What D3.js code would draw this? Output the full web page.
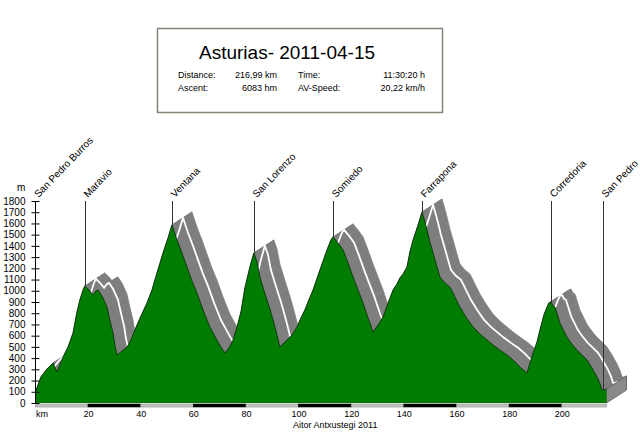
<!DOCTYPE html>
<html><head><meta charset="utf-8">
<script src="https://cdn.jsdelivr.net/npm/d3@7"></script>
<style>
body{margin:0;background:#fff}
svg{display:block}
text{font-family:"Liberation Sans",Arial,sans-serif;fill:#000}
</style>
</head><body>
<svg id="chart" width="640" height="432"></svg>
<script>
// ---------- data ----------
const profileKm = [0,2.1,4.4,6.7,8.2,10.5,12.4,14.3,15.8,16.9,18.1,18.8,20.0,20.7,21.9,23.0,23.8,25.3,27.2,28.3,29.5,30.2,31.0,32.5,34.8,36.3,37.8,40.1,42.4,44.3,46.2,48.5,50.4,51.9,53.8,55.7,57.6,59.5,61.4,63.7,66.3,69.0,70.5,72.0,73.6,75.1,76.6,78.1,79.6,81.5,83.0,84.2,85.3,86.8,88.0,89.1,90.3,91.8,92.9,94.4,95.6,97.5,99.4,100.9,102.4,103.9,105.5,108.1,110.8,112.3,113.1,115.0,116.9,118.8,120.7,122.6,124.5,126.4,128.3,130.2,132.1,134.0,135.9,137.4,138.5,139.7,141.2,142.3,143.5,145.4,146.9,148.0,148.8,149.9,151.1,152.6,153.7,155.6,157.5,158.7,159.4,161.3,163.6,166.3,168.9,171.6,173.9,176.5,179.2,181.5,184.1,186.8,187.9,189.1,190.6,191.7,193.2,194.4,195.1,195.9,196.7,197.4,198.5,199.3,200.8,201.9,203.8,205.7,207.7,209.6,211.5,213.4,214.6,215.3,216.1,216.99];
const profileElev = [98,232,303,357,276,410,499,624,811,918,1007,1043,1016,998,963,998,1007,954,856,740,624,517,428,455,499,561,650,775,891,1007,1159,1337,1471,1587,1453,1337,1212,1087,980,829,677,561,499,446,490,561,677,811,1025,1212,1337,1257,1123,1007,918,838,740,606,499,535,561,606,677,758,829,918,1007,1185,1364,1453,1480,1426,1364,1248,1123,1007,891,758,633,695,767,891,1007,1061,1114,1150,1212,1346,1453,1587,1702,1613,1542,1435,1337,1212,1123,1070,1034,980,945,856,767,677,615,561,517,472,428,383,321,267,356,446,544,650,784,856,891,900,865,856,775,713,642,588,526,472,428,383,312,232,169,116,116,125];
const passNames = ["San Pedro Burros","Maravio","Ventana","San Lorenzo","Somiedo","Farrapona","Corredoria","San Pedro"];
const passKm = [0,18.8,51.9,83.0,113.1,146.9,195.9,215.6];
const yTickValues = [0,100,200,300,400,500,600,700,800,900,1000,1100,1200,1300,1400,1500,1600,1700,1800];
const xTickValues = [0,20,40,60,80,100,120,140,160,180,200];
const xTickLabels = ["km","20","40","60","80","100","120","140","160","180","200"];
const titleText = "Asturias- 2011-04-15";
const statNamesLeft = ["Distance:","Ascent:"];
const statValuesLeft = ["216,99 km","6083 hm"];
const statNamesRight = ["Time:","AV-Speed:"];
const statValuesRight = ["11:30:20 h","20,22 km/h"];
const creditText = "Aitor Antxustegi 2011";
const totalKm = 216.99;

// ---------- setup ----------
const svg = d3.select("#chart");
const x = d3.scaleLinear().domain([0, totalKm]).range([35.4, 606.5]);
const y = d3.scaleLinear().domain([0, 1800]).range([403, 201]);
const elevAt = d3.scaleLinear().domain(profileKm).range(profileElev);
const DX = 20, DY = -13;

const pts = profileKm.map((k, i) => [x(k), y(profileElev[i])]);

// ---------- 3D road band ----------
const band = svg.append("g");
band.selectAll("polygon").data(d3.pairs(pts)).join("polygon")
  .attr("points", ([a, b]) => [a, b, [b[0] + DX, b[1] + DY], [a[0] + DX, a[1] + DY]].map(p => p.join(",")).join(" "))
  .attr("fill", "#7e7e7e").attr("stroke", "#7e7e7e").attr("stroke-width", 0.7);

band.append("path")
  .attr("d", d3.line()(pts.map(p => [p[0] + DX * 0.55, p[1] + DY * 0.55])))
  .attr("fill", "none").attr("stroke", "#fff").attr("stroke-width", 1.8);

// end face
const last = pts[pts.length - 1];
svg.append("polygon")
  .attr("points", [[last[0], y(0)], last, [last[0] + DX, last[1] + DY], [last[0] + DX, y(0) + DY]].map(p => p.join(",")).join(" "))
  .attr("fill", "#8a8a8a").attr("stroke", "#5a5a5a").attr("stroke-width", 0.8);

// ---------- green profile ----------
svg.append("path")
  .attr("d", d3.area().x(d => d[0]).y0(y(0)).y1(d => d[1])(pts))
  .attr("fill", "#007d00");
svg.append("path")
  .attr("d", d3.line()(pts))
  .attr("fill", "none").attr("stroke", "#0b2e0b").attr("stroke-width", 0.9);

// ---------- km bar ----------
svg.append("g").selectAll("rect").data(xTickValues).join("rect")
  .attr("x", d => x(d))
  .attr("y", 404)
  .attr("width", d => x(Math.min(d + 20, totalKm)) - x(d))
  .attr("height", 3)
  .attr("fill", (d, i) => i % 2 ? "#000" : "#c4c4c4")
  .attr("stroke", (d, i) => i % 2 ? "#000" : "#8a8a8a").attr("stroke-width", 0.6);

// ---------- pass markers ----------
const markers = svg.append("g");
markers.selectAll("line").data(passKm).join("line")
  .attr("x1", d => Math.round(x(d)) + 0.5).attr("x2", d => Math.round(x(d)) + 0.5)
  .attr("y1", y(1800)).attr("y2", d => y(elevAt(d)))
  .attr("stroke", "#333").attr("stroke-width", 1);
markers.selectAll("text").data(passNames).join("text")
  .attr("transform", (d, i) => `translate(${x(passKm[i]) + 3},198) rotate(-46)`)
  .attr("font-size", 10)
  .text(d => d);

// ---------- axes ----------
const yAxis = svg.append("g").attr("transform", "translate(35.5,0)")
  .call(d3.axisLeft(y).tickValues(yTickValues).tickFormat(d3.format("d")).tickSizeInner(4).tickSizeOuter(0).tickPadding(6));
yAxis.select(".domain").attr("stroke", "#000").attr("d", `M0,${y(1800)}V404`);
yAxis.selectAll(".tick line").attr("x1", 4).attr("x2", -4).attr("stroke", "#000");
yAxis.selectAll(".tick text").attr("font-size", 10).attr("font-family", "Liberation Sans, Arial, sans-serif").attr("fill", "#000");
svg.append("text").attr("x", 17).attr("y", 191).attr("font-size", 10).text("m");

const xAxis = svg.append("g").attr("transform", "translate(0,404)")
  .call(d3.axisBottom(x).tickValues(xTickValues).tickFormat((d, i) => xTickLabels[i]).tickSize(0));
xAxis.select(".domain").remove();
xAxis.selectAll(".tick text")
  .attr("y", 13).attr("dy", 0)
  .attr("font-size", 9).attr("font-family", "Liberation Sans, Arial, sans-serif").attr("fill", "#000")
  .attr("text-anchor", (d, i) => i === 0 ? "start" : "middle");

svg.append("text").attr("x", 293).attr("y", 428).attr("font-size", 9).text(creditText);

// ---------- title box ----------
const box = svg.append("g");
box.append("rect").attr("x", 157.5).attr("y", 28.5).attr("width", 285).attr("height", 84)
  .attr("fill", "#fff").attr("stroke", "#8b8378").attr("stroke-width", 1.5);
box.append("text").attr("x", 199).attr("y", 59).attr("font-size", 19).text(titleText);
const rowsY = [78, 91];
box.selectAll(".nl").data(statNamesLeft).join("text").attr("class", "nl")
  .attr("x", 178).attr("y", (d, i) => rowsY[i]).attr("font-size", 9).text(d => d);
box.selectAll(".vl").data(statValuesLeft).join("text").attr("class", "vl")
  .attr("x", 277).attr("y", (d, i) => rowsY[i]).attr("font-size", 9).attr("text-anchor", "end").text(d => d);
box.selectAll(".nr").data(statNamesRight).join("text").attr("class", "nr")
  .attr("x", 298).attr("y", (d, i) => rowsY[i]).attr("font-size", 9).text(d => d);
box.selectAll(".vr").data(statValuesRight).join("text").attr("class", "vr")
  .attr("x", 425).attr("y", (d, i) => rowsY[i]).attr("font-size", 9).attr("text-anchor", "end").text(d => d);
</script>
</body></html>
